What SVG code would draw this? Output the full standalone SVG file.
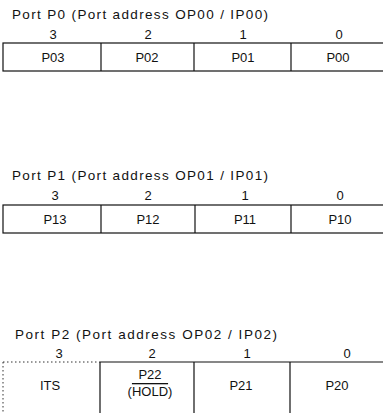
<svg xmlns="http://www.w3.org/2000/svg" width="383" height="413" viewBox="0 0 383 413">
<style>
text{font-family:"Liberation Sans",Arial,sans-serif;fill:#111;}
.t{font-size:13.5px;}
.d{font-size:13px;text-anchor:middle;}
.l{font-size:13px;text-anchor:middle;}
.b{fill:none;stroke:#111;stroke-width:1.2;}
.dot{fill:none;stroke:#333;stroke-width:1;stroke-dasharray:1.5 2.5;}
</style>
<rect width="383" height="413" fill="#fff"/>
<g id="port-p0">
<text class="t" x="12" y="19" textLength="256">Port P0 (Port address OP00 / IP00)</text>
<text class="d" x="53" y="39">3</text>
<text class="d" x="148" y="39">2</text>
<text class="d" x="243" y="39">1</text>
<text class="d" x="339" y="39">0</text>
<rect class="b" x="3" y="43" width="390" height="28"/>
<line class="b" x1="101" y1="43" x2="101" y2="71"/>
<line class="b" x1="194" y1="43" x2="194" y2="71"/>
<line class="b" x1="291" y1="43" x2="291" y2="71"/>
<text class="l" x="53" y="62">P03</text>
<text class="l" x="147" y="62">P02</text>
<text class="l" x="243" y="62">P01</text>
<text class="l" x="338" y="62">P00</text>
</g>
<g id="port-p1">
<text class="t" x="12" y="180" textLength="256">Port P1 (Port address OP01 / IP01)</text>
<text class="d" x="55" y="200">3</text>
<text class="d" x="148" y="200">2</text>
<text class="d" x="245" y="200">1</text>
<text class="d" x="340" y="200">0</text>
<rect class="b" x="3" y="205" width="390" height="28"/>
<line class="b" x1="101" y1="205" x2="101" y2="233"/>
<line class="b" x1="195" y1="205" x2="195" y2="233"/>
<line class="b" x1="291" y1="205" x2="291" y2="233"/>
<text class="l" x="55" y="224">P13</text>
<text class="l" x="148" y="224">P12</text>
<text class="l" x="245" y="224">P11</text>
<text class="l" x="340" y="224">P10</text>
</g>
<g id="port-p2">
<text class="t" x="15" y="339" textLength="262">Port P2 (Port address OP02 / IP02)</text>
<text class="d" x="59" y="358">3</text>
<text class="d" x="152" y="358">2</text>
<text class="d" x="247" y="358">1</text>
<text class="d" x="347" y="358">0</text>
<path class="dot" d="M3 362 H100 M3 362 V413"/>
<path class="b" d="M100 362 H393 M100 362 V413 M194 362 V413 M290 362 V413"/>
<text class="l" x="50" y="390">ITS</text>
<text class="l" x="150" y="379">P22</text>
<text class="l" x="150" y="396">(<tspan text-decoration="overline">HOLD</tspan>)</text>
<text class="l" x="241" y="390">P21</text>
<text class="l" x="337" y="390">P20</text>
</g>
</svg>
